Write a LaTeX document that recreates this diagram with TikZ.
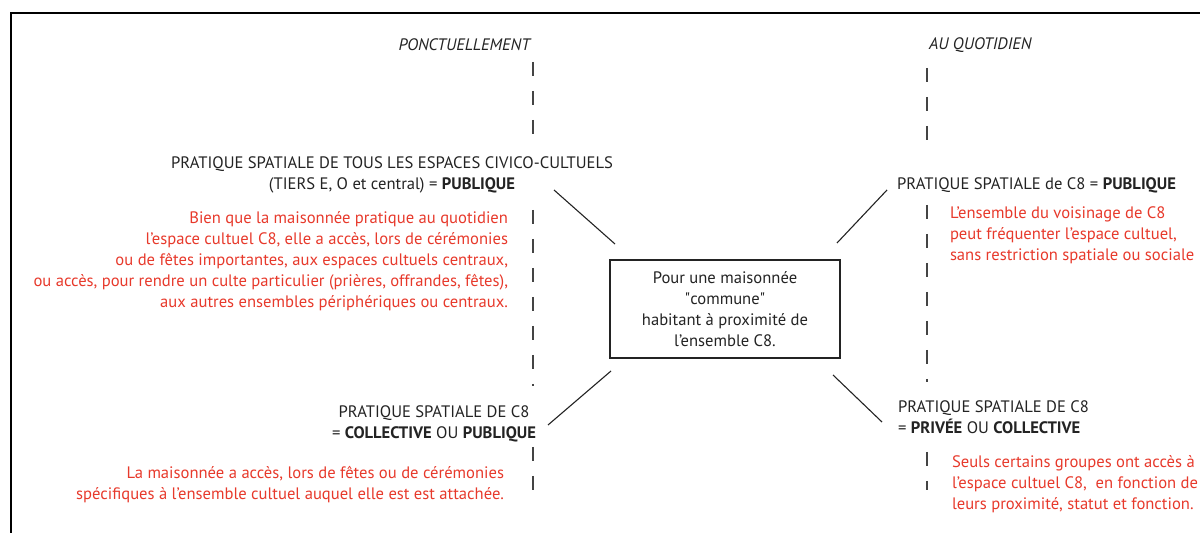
\documentclass[tikz,border=0pt]{standalone}
\usepackage{fontspec}
\setmainfont{PT Sans}
\usepackage{xcolor}
\usetikzlibrary{positioning}
\definecolor{notered}{RGB}{231,57,43}
\definecolor{ink}{RGB}{35,35,35}
\newcommand{\labfont}{\fontsize{8.3}{10.5}\selectfont}

\begin{document}
\begin{tikzpicture}[x=0.5pt, y=-0.5pt,
    every node/.style={inner sep=0pt, outer sep=0pt, font=\labfont, text=ink},
    head/.style={font=\labfont\itshape},
    practice/.style={align=center},
    note/.style={text=notered},
    house/.style={rectangle, draw=ink, line width=0.8pt, align=center,
      minimum width=115pt, minimum height=49pt},
    link/.style={draw=ink, line width=0.55pt},
    axisdash/.style={draw=ink!85, line width=0.8pt, dash pattern=on 7pt off 7.5pt}]
    \useasboundingbox (0,0) rectangle (1200,533);
    \clip (0,0) rectangle (1200,533);
    \draw [line width=1pt] (11,13) rectangle (1230,560);

    % centre
    \node (house) [house] at (725,309) {Pour une maisonn\'ee\\\textquotedbl commune\textquotedbl\\habitant \`a proximit\'e de\\l'ensemble C8.};

    % column heads
    \node (ponct) [head, anchor=east] at (530,45) {PONCTUELLEMENT};
    \node (quot) [head, anchor=west] at (929,45) {AU QUOTIDIEN};

    % practices
    \node (civico) [practice, anchor=north] at (392,157) {PRATIQUE SPATIALE DE TOUS LES ESPACES CIVICO-CULTUELS\\(TIERS E, O et central) = \textbf{PUBLIQUE}};
    \node (civicoTxt) [note, align=right, anchor=north east] at (508,212) {Bien que la maisonn\'ee pratique au quotidien\\l'espace cultuel C8, elle a acc\`es, lors de c\'er\'emonies\\ou de f\^etes importantes, aux espaces cultuels centraux,\\ou acc\`es, pour rendre un culte particulier (pri\`eres, offrandes, f\^etes),\\aux autres ensembles p\'eriph\'eriques ou centraux.};

    \node (pubC8) [anchor=west] at (897,185) {PRATIQUE SPATIALE de C8 = \textbf{PUBLIQUE}};
    \node (pubTxt) [note, align=left, anchor=north west] at (950,207) {L'ensemble du voisinage de C8\\peut fr\'equenter l'espace cultuel,\\sans restriction spatiale ou sociale};

    \node (collC8) [practice, anchor=north] at (434,406) {PRATIQUE SPATIALE DE C8\\= \textbf{COLLECTIVE} OU \textbf{PUBLIQUE}};
    \node (collTxt) [note, align=right, anchor=north east] at (504,466) {La maisonn\'ee a acc\`es, lors de f\^etes ou de c\'er\'emonies\\sp\'ecifiques \`a l'ensemble cultuel auquel elle est est attach\'ee.};

    \node (privC8) [align=left, anchor=north west] at (898,401) {PRATIQUE SPATIALE DE C8\\= \textbf{PRIV\'EE} OU \textbf{COLLECTIVE}};
    \node (privTxt) [note, align=left, anchor=north west] at (952,456) {Seuls certains groupes ont acc\`es \`a\\l'espace cultuel C8,\ \ en fonction de\\leurs proximit\'e, statut et fonction.};

    % free ends of the links
    \coordinate (civicoEnd) at ([shift={(-56,-70)}]house.north west);
    \coordinate (pubEnd) at ([shift={(47,-70)}]house.north east);
    \coordinate (collEnd) at ([shift={(-62,67)}]house.south west);
    \coordinate (privEnd) at ([shift={(42,64)}]house.south east);

    \draw [link] ([shift={(5,-16)}]house.north west) -- (civicoEnd);
    \draw [link] ([shift={(-3,-17)}]house.north east) -- (pubEnd);
    \draw [link] ([shift={(1,13)}]house.south west) -- (collEnd);
    \draw [link] ([shift={(-7,17)}]house.south east) -- (privEnd);

    % time axes
    \draw [axisdash] (533,62) -- (533,136);
    \draw [axisdash] (533,210) -- (533,386);
    \draw [axisdash] (533,447) -- (533,490);
    \draw [axisdash] (927,68) -- (927,150);
    \draw [axisdash] (927,205) -- (927,382);
    \draw [axisdash] (927,452) -- (927,490);
\end{tikzpicture}
\end{document}
